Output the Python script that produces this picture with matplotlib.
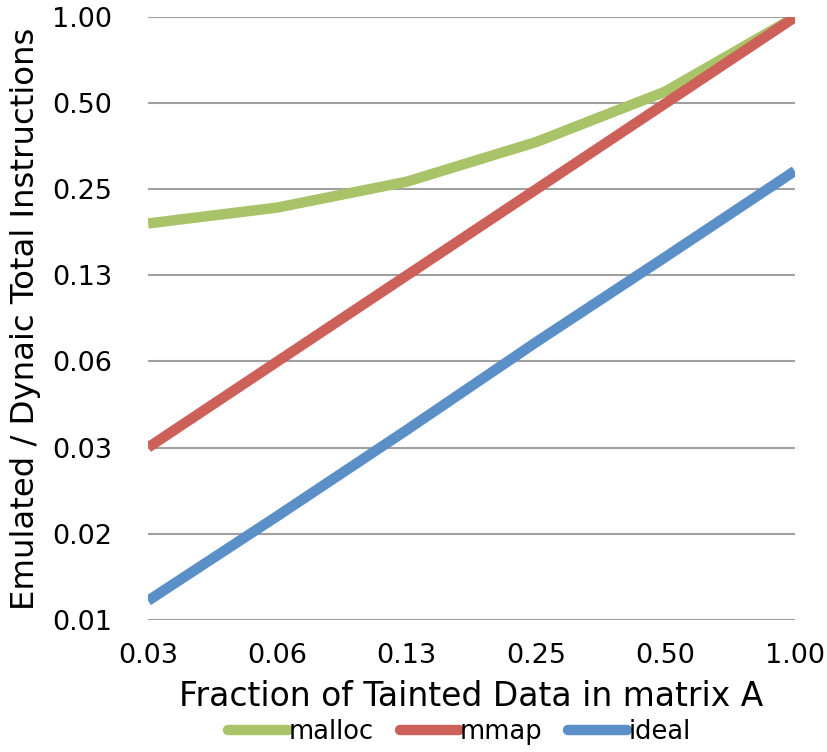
import numpy as np
import matplotlib.pyplot as plt
from matplotlib.ticker import FixedLocator, FixedFormatter

# fraction of tainted data (x) and emulated/total ratio (y)
frac = [0.03125, 0.0625, 0.125, 0.25, 0.5, 1.0]
malloc = [0.19, 0.216, 0.266, 0.366, 0.55, 1.0]
mmap = [0.03125, 0.0625, 0.125, 0.25, 0.5, 1.0]
ideal = [0.0091, 0.018, 0.036, 0.073, 0.145, 0.29]

xtick_vals = [0.03125, 0.0625, 0.125, 0.25, 0.5, 1.0]
xtick_labels = ['0.03', '0.06', '0.13', '0.25', '0.50', '1.00']
ytick_vals = [0.0078125, 0.015625, 0.03125, 0.0625, 0.125, 0.25, 0.5, 1.0]
ytick_labels = ['0.01', '0.02', '0.03', '0.06', '0.13', '0.25', '0.50', '1.00']

fig = plt.figure(figsize=(8.27, 7.52), dpi=100)
ax = fig.add_axes([0.179, 0.176, 0.782, 0.801])

ax.plot(frac, malloc, color='#A9C468', lw=7.5, label='malloc', solid_capstyle='butt')
ax.plot(frac, mmap, color='#CD6058', lw=7.5, label='mmap', solid_capstyle='butt')
ax.plot(frac, ideal, color='#5B8FC8', lw=7.5, label='ideal', solid_capstyle='butt')

ax.set_xscale('log', base=2)
ax.set_yscale('log', base=2)
ax.set_xlim(0.03125, 1.0)
ax.set_ylim(0.0078125, 1.0)

ax.xaxis.set_major_locator(FixedLocator(xtick_vals))
ax.xaxis.set_major_formatter(FixedFormatter(xtick_labels))
ax.xaxis.set_minor_locator(FixedLocator([]))
ax.yaxis.set_major_locator(FixedLocator(ytick_vals))
ax.yaxis.set_major_formatter(FixedFormatter(ytick_labels))
ax.yaxis.set_minor_locator(FixedLocator([]))

ax.grid(axis='y', color='#A0A0A0', lw=1.5)
ax.set_axisbelow(True)
for s in ax.spines.values():
    s.set_visible(False)
ax.tick_params(length=0, labelsize=19.5)
ax.tick_params(axis='y', pad=26)
ax.tick_params(axis='x', pad=17)

ax.set_xlabel('Fraction of Tainted Data in matrix A', fontsize=23.7, labelpad=8)
ax.set_ylabel('Emulated / Dynaic Total Instructions', fontsize=23.3, labelpad=8)

leg = ax.legend(loc='upper center', bbox_to_anchor=(0.482, -0.165), ncol=3, frameon=False,
                fontsize=18.5, handlelength=2.3, handletextpad=0.05, columnspacing=1.0,
                borderaxespad=0, borderpad=0)
for h in leg.get_lines():
    h.set_solid_capstyle('round')

fig.savefig('out.png', dpi=100)
